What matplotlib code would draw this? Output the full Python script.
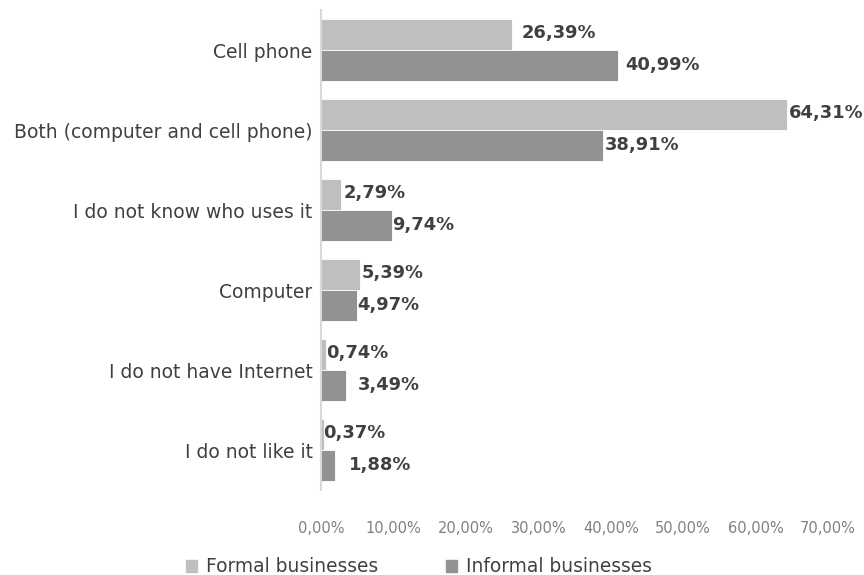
import matplotlib
matplotlib.use("Agg")
import matplotlib.pyplot as plt
from matplotlib.patches import Patch
import numpy as np

categories = ["Cell phone", "Both (computer and cell phone)", "I do not know who uses it",
              "Computer", "I do not have Internet", "I do not like it"]
formal = [26.39, 64.31, 2.79, 5.39, 0.74, 0.37]
informal = [40.99, 38.91, 9.74, 4.97, 3.49, 1.88]
formal_labels = ["26,39%", "64,31%", "2,79%", "5,39%", "0,74%", "0,37%"]
informal_labels = ["40,99%", "38,91%", "9,74%", "4,97%", "3,49%", "1,88%"]
xticks = [0, 10, 20, 30, 40, 50, 60, 70]
xtick_labels = ["0,00%", "10,00%", "20,00%", "30,00%", "40,00%", "50,00%", "60,00%", "70,00%"]
series_names = ["Formal businesses", "Informal businesses"]

# label offsets in points (style)
formal_off = [7, 1.2, 1.5, 1.5, 0, -0.5]
informal_off = [5, 1.5, 0.5, 0.5, 8.5, 10]

c_formal = "#BFBFBF"
c_informal = "#929292"
txt = "#404040"

plt.rcParams['font.family'] = ['DejaVu Sans']
fig = plt.figure(figsize=(8.64, 5.75), dpi=100)
ax = fig.add_axes([321/864, 1-490/575, (828-321)/864, 480/575])

y = np.arange(len(categories))
h = 0.385
ax.barh(y - h/2, formal, height=h, color=c_formal, edgecolor="white", linewidth=0.6)
ax.barh(y + h/2, informal, height=h, color=c_informal, edgecolor="white", linewidth=0.6)

for i in range(len(categories)):
    ax.annotate(formal_labels[i], (formal[i], y[i] - h/2), xytext=(formal_off[i], 1),
                textcoords="offset points", va="center", ha="left",
                fontsize=12.9, fontweight="bold", color=txt)
    ax.annotate(informal_labels[i], (informal[i], y[i] + h/2), xytext=(informal_off[i], 0),
                textcoords="offset points", va="center", ha="left",
                fontsize=12.9, fontweight="bold", color=txt)

ax.set_ylim(len(categories) - 0.5, -0.5)
ax.set_xlim(0, 70)
ax.set_yticks(y)
ax.set_yticklabels(categories, fontsize=13.5, color=txt)
ax.set_xticks(xticks)
ax.set_xticklabels(xtick_labels, fontsize=10.5, color="#808080")
ax.tick_params(axis="both", length=0)
ax.tick_params(axis="x", pad=22)
ax.tick_params(axis="y", pad=6)
for s in ["top", "right", "bottom"]:
    ax.spines[s].set_visible(False)
ax.spines["left"].set_color("#D9D9D9")
ax.spines["left"].set_linewidth(1.5)

handles = [Patch(color=c_formal), Patch(color=c_informal)]
fig.legend(handles, series_names, loc="center", bbox_to_anchor=(419/864, 1-567/575),
           ncol=2, frameon=False, fontsize=13.4, handlelength=0.6, handleheight=0.6,
           handletextpad=0.5, columnspacing=3.6, labelcolor=txt)

fig.savefig("out.png", dpi=100)
